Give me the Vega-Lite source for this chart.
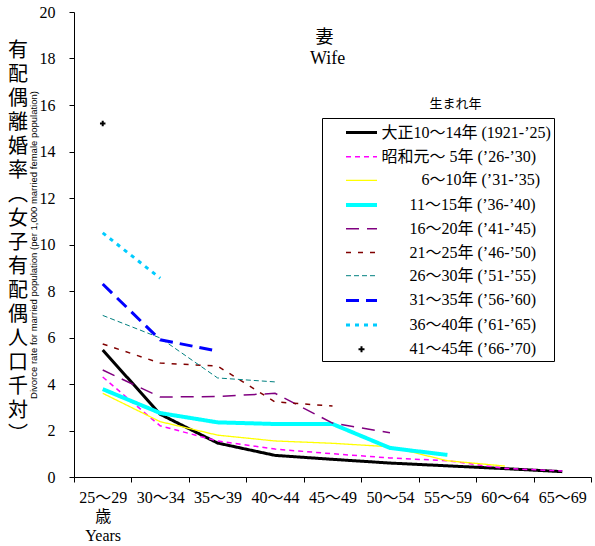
{
  "$schema": "https://vega.github.io/schema/vega-lite/v6.json",
  "width": 517,
  "height": 465,
  "autosize": "none",
  "padding": {"left": 74, "top": 12, "right": 4, "bottom": 69},
  "background": "white",
  "config": {
    "view": {"stroke": null},
    "font": "Liberation Serif, Noto Sans CJK JP",
    "axis": {"labelFont": "Liberation Serif, Noto Sans CJK JP", "titleFont": "Liberation Serif, Noto Sans CJK JP", "labelColor": "black", "titleColor": "black", "domainColor": "black", "tickColor": "black", "grid": false}
  },
  "title": {
    "text": ["有","配","偶","離","婚","率","︵","女","子","有","配","偶","人","口","千","対","︶"],
    "orient": "left",
    "angle": 0,
    "font": "Noto Sans CJK JP",
    "fontSize": 20,
    "fontWeight": "normal",
    "lineHeight": 24,
    "anchor": "middle",
    "align": "center",
    "baseline": "middle",
    "offset": 2,
    "dx": 12,
    "dy": -194,
    "color": "black"
  },
  "datasets": {
    "rates": [
      {"cohort": "大正10～14年 (1921-’25)", "age": "25～29", "rate": 5.46},
      {"cohort": "大正10～14年 (1921-’25)", "age": "30～34", "rate": 2.7},
      {"cohort": "大正10～14年 (1921-’25)", "age": "35～39", "rate": 1.46},
      {"cohort": "大正10～14年 (1921-’25)", "age": "40～44", "rate": 0.93},
      {"cohort": "大正10～14年 (1921-’25)", "age": "45～49", "rate": 0.76},
      {"cohort": "大正10～14年 (1921-’25)", "age": "50～54", "rate": 0.6},
      {"cohort": "大正10～14年 (1921-’25)", "age": "55～59", "rate": 0.48},
      {"cohort": "大正10～14年 (1921-’25)", "age": "60～64", "rate": 0.36},
      {"cohort": "大正10～14年 (1921-’25)", "age": "65～69", "rate": 0.23},
      {"cohort": "昭和元～ 5年 (’26-’30)", "age": "25～29", "rate": 4.3},
      {"cohort": "昭和元～ 5年 (’26-’30)", "age": "30～34", "rate": 2.2},
      {"cohort": "昭和元～ 5年 (’26-’30)", "age": "35～39", "rate": 1.55},
      {"cohort": "昭和元～ 5年 (’26-’30)", "age": "40～44", "rate": 1.2},
      {"cohort": "昭和元～ 5年 (’26-’30)", "age": "45～49", "rate": 1.0},
      {"cohort": "昭和元～ 5年 (’26-’30)", "age": "50～54", "rate": 0.82},
      {"cohort": "昭和元～ 5年 (’26-’30)", "age": "55～59", "rate": 0.7},
      {"cohort": "昭和元～ 5年 (’26-’30)", "age": "60～64", "rate": 0.37},
      {"cohort": "昭和元～ 5年 (’26-’30)", "age": "65～69", "rate": 0.26},
      {"cohort": "\u200d\u3000\u3000\u20026～10年 (’31-’35)", "age": "25～29", "rate": 3.6},
      {"cohort": "\u200d\u3000\u3000\u20026～10年 (’31-’35)", "age": "30～34", "rate": 2.38},
      {"cohort": "\u200d\u3000\u3000\u20026～10年 (’31-’35)", "age": "35～39", "rate": 1.8},
      {"cohort": "\u200d\u3000\u3000\u20026～10年 (’31-’35)", "age": "40～44", "rate": 1.55},
      {"cohort": "\u200d\u3000\u3000\u20026～10年 (’31-’35)", "age": "45～49", "rate": 1.45},
      {"cohort": "\u200d\u3000\u3000\u20026～10年 (’31-’35)", "age": "50～54", "rate": 1.3},
      {"cohort": "\u200d\u3000\u3000\u20026～10年 (’31-’35)", "age": "55～59", "rate": 0.7},
      {"cohort": "\u200d\u3000\u3000\u20026～10年 (’31-’35)", "age": "60～64", "rate": 0.47},
      {"cohort": "\u200d\u3000\u2002\u200511～15年 (’36-’40)", "age": "25～29", "rate": 3.78},
      {"cohort": "\u200d\u3000\u2002\u200511～15年 (’36-’40)", "age": "30～34", "rate": 2.75},
      {"cohort": "\u200d\u3000\u2002\u200511～15年 (’36-’40)", "age": "35～39", "rate": 2.35},
      {"cohort": "\u200d\u3000\u2002\u200511～15年 (’36-’40)", "age": "40～44", "rate": 2.28},
      {"cohort": "\u200d\u3000\u2002\u200511～15年 (’36-’40)", "age": "45～49", "rate": 2.28},
      {"cohort": "\u200d\u3000\u2002\u200511～15年 (’36-’40)", "age": "50～54", "rate": 1.25},
      {"cohort": "\u200d\u3000\u2002\u200511～15年 (’36-’40)", "age": "55～59", "rate": 0.95},
      {"cohort": "\u200d\u3000\u2002\u200516～20年 (’41-’45)", "age": "25～29", "rate": 4.6},
      {"cohort": "\u200d\u3000\u2002\u200516～20年 (’41-’45)", "age": "30～34", "rate": 3.44},
      {"cohort": "\u200d\u3000\u2002\u200516～20年 (’41-’45)", "age": "35～39", "rate": 3.46},
      {"cohort": "\u200d\u3000\u2002\u200516～20年 (’41-’45)", "age": "40～44", "rate": 3.6},
      {"cohort": "\u200d\u3000\u2002\u200516～20年 (’41-’45)", "age": "45～49", "rate": 2.32},
      {"cohort": "\u200d\u3000\u2002\u200516～20年 (’41-’45)", "age": "50～54", "rate": 1.9},
      {"cohort": "\u200d\u3000\u2002\u200521～25年 (’46-’50)", "age": "25～29", "rate": 5.72},
      {"cohort": "\u200d\u3000\u2002\u200521～25年 (’46-’50)", "age": "30～34", "rate": 4.9},
      {"cohort": "\u200d\u3000\u2002\u200521～25年 (’46-’50)", "age": "35～39", "rate": 4.77},
      {"cohort": "\u200d\u3000\u2002\u200521～25年 (’46-’50)", "age": "40～44", "rate": 3.23},
      {"cohort": "\u200d\u3000\u2002\u200521～25年 (’46-’50)", "age": "45～49", "rate": 3.05},
      {"cohort": "\u200d\u3000\u2002\u200526～30年 (’51-’55)", "age": "25～29", "rate": 6.95},
      {"cohort": "\u200d\u3000\u2002\u200526～30年 (’51-’55)", "age": "30～34", "rate": 5.98},
      {"cohort": "\u200d\u3000\u2002\u200526～30年 (’51-’55)", "age": "35～39", "rate": 4.26},
      {"cohort": "\u200d\u3000\u2002\u200526～30年 (’51-’55)", "age": "40～44", "rate": 4.09},
      {"cohort": "\u200d\u3000\u2002\u200531～35年 (’56-’60)", "age": "25～29", "rate": 8.3},
      {"cohort": "\u200d\u3000\u2002\u200531～35年 (’56-’60)", "age": "30～34", "rate": 5.9},
      {"cohort": "\u200d\u3000\u2002\u200531～35年 (’56-’60)", "age": "35～39", "rate": 5.42},
      {"cohort": "\u200d\u3000\u2002\u200536～40年 (’61-’65)", "age": "25～29", "rate": 10.5},
      {"cohort": "\u200d\u3000\u2002\u200536～40年 (’61-’65)", "age": "30～34", "rate": 8.55},
      {"cohort": "\u200d\u3000\u2002\u200541～45年 (’66-’70)", "age": "25～29", "rate": 15.2}
    ]
  },
  "layer": [
    {
      "data": {"name": "rates"},
      "transform": [{"filter": "indexof(datum.cohort, '66-') < 0"}],
      "mark": {"type": "line", "strokeCap": "butt", "strokeJoin": "miter"},
      "encoding": {
        "x": {
          "field": "age", "type": "ordinal", "sort": null,
          "scale": {"type": "band", "domain": ["25～29","30～34","35～39","40～44","45～49","50～54","55～59","60～64","65～69"], "paddingInner": 0, "paddingOuter": 0},
          "axis": {
            "title": ["歳", "Years"], "tickBand": "extent", "labelAngle": 0, "labelFontSize": 16, "labelPadding": 7, "tickSize": 5,
            "titleX": 28.7, "titleY": 31, "titleAlign": "center", "titleBaseline": "top", "titleFontSize": 16, "titleFontWeight": "normal", "titleLineHeight": 19
          }
        },
        "y": {
          "field": "rate", "type": "quantitative",
          "scale": {"domain": [0, 20], "nice": false},
          "axis": {
            "values": [0,2,4,6,8,10,12,14,16,18,20], "title": "Divorce rate for married population (per 1,000 married female population)",
            "titleFont": "Liberation Sans", "titleFontSize": 9.5, "titleFontWeight": "normal", "titleAngle": -90, "titleX": -41, "titleY": 232.5, "titleAlign": "center", "titleBaseline": "middle",
            "labelFontSize": 16, "labelPadding": 14, "tickSize": 5
          }
        },
        "color": {
          "field": "cohort", "type": "nominal",
          "scale": {
            "domain": ["大正10～14年 (1921-’25)", "昭和元～ 5年 (’26-’30)", "\u200d\u3000\u3000\u20026～10年 (’31-’35)", "\u200d\u3000\u2002\u200511～15年 (’36-’40)", "\u200d\u3000\u2002\u200516～20年 (’41-’45)", "\u200d\u3000\u2002\u200521～25年 (’46-’50)", "\u200d\u3000\u2002\u200526～30年 (’51-’55)", "\u200d\u3000\u2002\u200531～35年 (’56-’60)", "\u200d\u3000\u2002\u200536～40年 (’61-’65)", "\u200d\u3000\u2002\u200541～45年 (’66-’70)"],
            "range": ["#000000", "#FF00FF", "#FFFF00", "#00FFFF", "#800080", "#800000", "#008080", "#0000FF", "#00CCFF", "#000000"]
          },
          "legend": {
            "title": null, "orient": "none", "legendX": 248, "legendY": 106,
            "strokeColor": "black", "fillColor": "white", "padding": 3,
            "labelFontSize": 16, "labelFont": "Liberation Serif, Noto Sans CJK JP", "labelColor": "black", "labelLimit": 300,
            "symbolSize": 400, "symbolOffset": 24.5, "labelOffset": 8, "rowPadding": 4.7, "symbolOpacity": 1,
            "encode": {"symbols": {"update": {"shape": {"signal": "indexof(datum.value, '66-') >= 0 ? 'M-0.3,0L0.3,0M0,-0.3L0,0.3' : 'M-1.55,0L1.55,0'"}}}}
          }
        },
        "strokeDash": {
          "field": "cohort", "type": "nominal",
          "scale": {
            "domain": ["大正10～14年 (1921-’25)", "昭和元～ 5年 (’26-’30)", "\u200d\u3000\u3000\u20026～10年 (’31-’35)", "\u200d\u3000\u2002\u200511～15年 (’36-’40)", "\u200d\u3000\u2002\u200516～20年 (’41-’45)", "\u200d\u3000\u2002\u200521～25年 (’46-’50)", "\u200d\u3000\u2002\u200526～30年 (’51-’55)", "\u200d\u3000\u2002\u200531～35年 (’56-’60)", "\u200d\u3000\u2002\u200536～40年 (’61-’65)", "\u200d\u3000\u2002\u200541～45年 (’66-’70)"],
            "range": [[1,0], [5,4], [1,0], [1,0], [13,8], [5,7], [5,3], [13,7], [4,5], [1,0]]
          }
        },
        "strokeWidth": {
          "field": "cohort", "type": "nominal",
          "scale": {
            "type": "ordinal",
            "domain": ["大正10～14年 (1921-’25)", "昭和元～ 5年 (’26-’30)", "\u200d\u3000\u3000\u20026～10年 (’31-’35)", "\u200d\u3000\u2002\u200511～15年 (’36-’40)", "\u200d\u3000\u2002\u200516～20年 (’41-’45)", "\u200d\u3000\u2002\u200521～25年 (’46-’50)", "\u200d\u3000\u2002\u200526～30年 (’51-’55)", "\u200d\u3000\u2002\u200531～35年 (’56-’60)", "\u200d\u3000\u2002\u200536～40年 (’61-’65)", "\u200d\u3000\u2002\u200541～45年 (’66-’70)"],
            "range": [3, 1.5, 1.3, 4, 1.5, 1.5, 1, 3, 3, 2]
          }
        }
      }
    },
    {
      "data": {"name": "rates"},
      "transform": [{"filter": "indexof(datum.cohort, '66-') >= 0"}],
      "mark": {"type": "point", "shape": "M-1,0L1,0M0,-1L0,1", "size": 30, "filled": false, "strokeWidth": 2, "opacity": 1},
      "encoding": {
        "x": {"field": "age", "type": "ordinal", "sort": null},
        "y": {"field": "rate", "type": "quantitative"},
        "color": {"field": "cohort", "type": "nominal"}
      }
    },
    {
      "data": {"values": [{}]},
      "mark": {"type": "text", "text": "妻", "font": "Noto Sans CJK JP", "fontSize": 18, "dx": -8, "baseline": "middle", "align": "center", "color": "black"},
      "encoding": {
        "x": {"datum": "45～49", "type": "ordinal"},
        "y": {"datum": 18.9, "type": "quantitative"}
      }
    },
    {
      "data": {"values": [{}]},
      "mark": {"type": "text", "text": "Wife", "font": "Liberation Serif", "fontSize": 18, "dx": -5, "baseline": "middle", "align": "center", "color": "black"},
      "encoding": {
        "x": {"datum": "45～49", "type": "ordinal"},
        "y": {"datum": 18.0, "type": "quantitative"}
      }
    },
    {
      "data": {"values": [{}]},
      "mark": {"type": "text", "text": "生まれ年", "font": "Noto Sans CJK JP", "fontSize": 13, "dx": 8, "baseline": "middle", "align": "center", "color": "black"},
      "encoding": {
        "x": {"datum": "55～59", "type": "ordinal"},
        "y": {"datum": 16.04, "type": "quantitative"}
      }
    }
  ]
}
